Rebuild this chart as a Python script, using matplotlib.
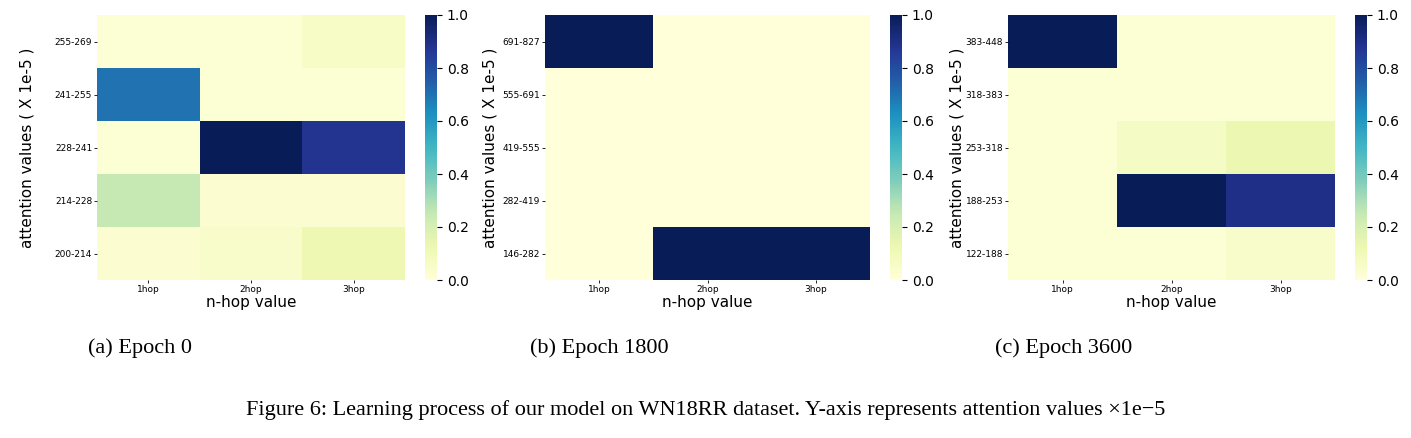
import numpy as np
import matplotlib
matplotlib.use("Agg")
import matplotlib.pyplot as plt

hops = ["1hop", "2hop", "3hop"]

rows_a = ["255-269", "241-255", "228-241", "214-228", "200-214"]
vals_a = [[0.02, 0.02, 0.06],
          [0.70, 0.02, 0.02],
          [0.02, 1.00, 0.88],
          [0.25, 0.03, 0.03],
          [0.03, 0.05, 0.12]]

rows_b = ["691-827", "555-691", "419-555", "282-419", "146-282"]
vals_b = [[1.0, 0.0, 0.0],
          [0.0, 0.0, 0.0],
          [0.0, 0.0, 0.0],
          [0.0, 0.0, 0.0],
          [0.0, 1.0, 1.0]]

rows_c = ["383-448", "318-383", "253-318", "188-253", "122-188"]
vals_c = [[1.00, 0.02, 0.02],
          [0.02, 0.02, 0.02],
          [0.02, 0.07, 0.13],
          [0.02, 1.00, 0.90],
          [0.02, 0.02, 0.05]]

captions = ["(a) Epoch 0", "(b) Epoch 1800", "(c) Epoch 3600"]
fig_caption = ("Figure 6: Learning process of our model on WN18RR dataset. "
               "Y-axis represents attention values \u00d71e\u22125")

W, H = 1411, 438
fig = plt.figure(figsize=(W / 100, H / 100), dpi=100)

# pixel boxes: heatmap left,right ; colorbar left ; ylabel x
boxes = [(97, 405, 425, 27), (545, 870, 890, 490), (1008, 1335, 1355, 957)]
top, bot = 15, 280
cap_x = [88, 530, 995]

for (l, r, cl, yx), rows, vals, cap, cx in zip(boxes, [rows_a, rows_b, rows_c],
                                               [vals_a, vals_b, vals_c], captions, cap_x):
    ax = fig.add_axes([l / W, 1 - bot / H, (r - l) / W, (bot - top) / H])
    cax = fig.add_axes([cl / W, 1 - bot / H, 12 / W, (bot - top) / H])
    data = np.array(vals)
    m = ax.pcolormesh(data[::-1], cmap="YlGnBu", vmin=0, vmax=1)
    ax.set_xticks(np.arange(3) + 0.5)
    ax.set_xticklabels(hops, fontsize=6.5)
    ax.set_yticks(np.arange(5) + 0.5)
    ax.set_yticklabels(rows[::-1], fontsize=6.5)
    ax.tick_params(length=2, width=0.6, pad=1.5)
    for s in ax.spines.values():
        s.set_visible(False)
    ax.set_xlabel("n-hop value", fontsize=11, labelpad=1)
    fig.text(yx / W, 1 - (top + bot) / 2 / H, "attention values ( X 1e-5 )",
             fontsize=11, rotation=90, ha="center", va="center")
    cb = fig.colorbar(m, cax=cax)
    cb.outline.set_visible(False)
    cb.ax.tick_params(labelsize=10)
    fig.text(cx / W, 1 - 348 / H, cap, fontsize=16, family="Liberation Serif",
             va="center")

fig.text(0.5, 1 - 410 / H, fig_caption, fontsize=16, family="Liberation Serif",
         ha="center", va="center")

fig.savefig("out.png", dpi=100)
